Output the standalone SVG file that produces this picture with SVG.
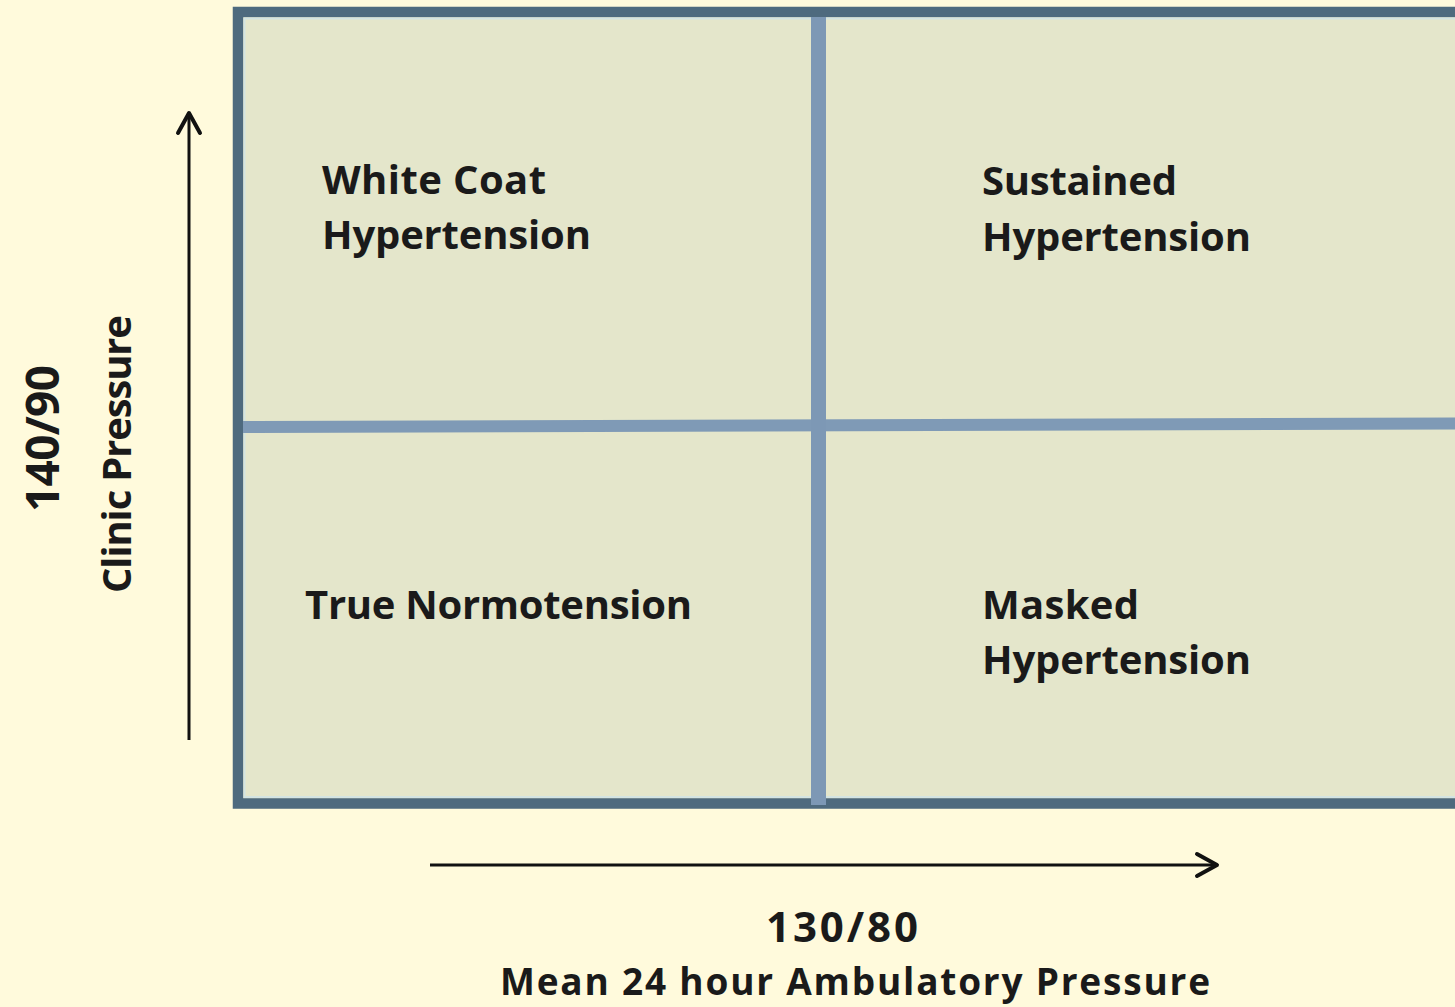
<svg xmlns="http://www.w3.org/2000/svg" width="1455" height="1007" viewBox="0 0 1455 1007">
  <style>
    .lbl { font-family: "Open Sans", Lato, "Liberation Sans", sans-serif; font-weight: bold; fill: #1a1a1a; }
    .cell { font-size: 40px; }
    .axis { stroke: #111; stroke-width: 3; fill: none; }
  </style>
  <defs>
    <marker id="chev" markerUnits="userSpaceOnUse" viewBox="-24 -14 28 28" refX="0" refY="0" markerWidth="28" markerHeight="28" orient="auto" overflow="visible">
      <path d="M -20 -11 L 0 0 L -20 11" fill="none" stroke="#111" stroke-width="4" stroke-linecap="round" stroke-linejoin="round"/>
    </marker>
  </defs>
  <rect x="0" y="0" width="1455" height="1007" fill="#fffadc"/>

  <g id="grid">
    <rect x="238" y="12" width="1240" height="791.5" fill="#e4e6cb" stroke="#4e6a7e" stroke-width="10.5"/>
    <rect x="244.5" y="18.5" width="1230" height="778.5" fill="none" stroke="#d3e4e2" stroke-width="2"/>
    <line x1="243" y1="427" x2="1455" y2="423.5" stroke="#7f9ab6" stroke-width="12"/>
    <line x1="818.5" y1="17" x2="818.5" y2="805" stroke="#7d98b5" stroke-width="15"/>
  </g>

  <g id="white-coat">
    <text class="lbl cell" x="322" y="194" textLength="224">White Coat</text>
    <text class="lbl cell" x="322" y="249" textLength="269">Hypertension</text>
  </g>
  <g id="sustained">
    <text class="lbl cell" x="982" y="195" textLength="195">Sustained</text>
    <text class="lbl cell" x="982" y="251" textLength="269">Hypertension</text>
  </g>
  <g id="true-normotension">
    <text class="lbl cell" x="305" y="619" textLength="387">True Normotension</text>
  </g>
  <g id="masked">
    <text class="lbl cell" x="982" y="619" textLength="157">Masked</text>
    <text class="lbl cell" x="982" y="674" textLength="269">Hypertension</text>
  </g>

  <g id="y-axis-label">
    <text class="lbl" font-size="46" text-anchor="middle" transform="translate(59,438.5) rotate(-90)" textLength="147">140/90</text>
    <text class="lbl" font-size="40" text-anchor="middle" transform="translate(131,454) rotate(-90)" textLength="278">Clinic Pressure</text>
  </g>
  <g id="x-axis-label">
    <text class="lbl" font-size="42" text-anchor="middle" x="842" y="942" textLength="152">130/80</text>
    <text class="lbl" font-size="37" text-anchor="middle" x="855" y="995" textLength="710">Mean 24 hour Ambulatory Pressure</text>
  </g>

  <g id="connectors">
    <line class="axis" x1="189" y1="740" x2="189" y2="113" marker-end="url(#chev)"/>
    <line class="axis" x1="430" y1="865" x2="1217" y2="865" marker-end="url(#chev)"/>
  </g>
</svg>
